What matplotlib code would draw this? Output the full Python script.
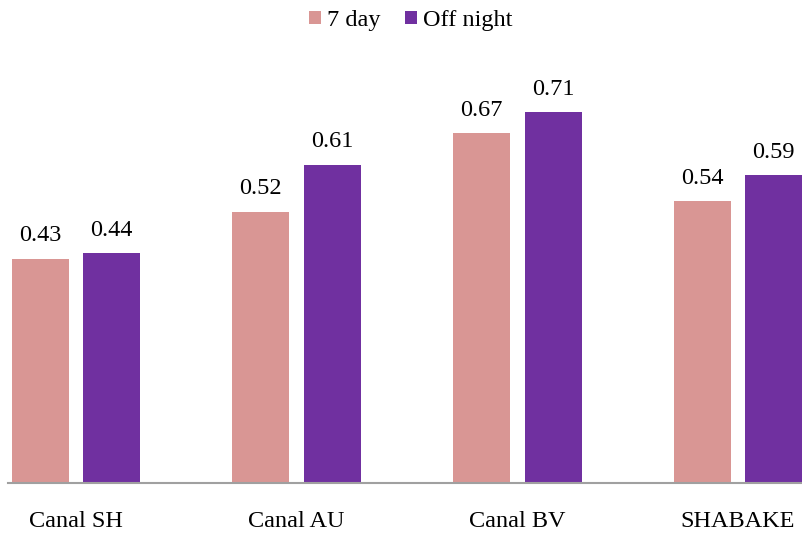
import matplotlib
matplotlib.use("Agg")
import matplotlib.pyplot as plt
from matplotlib.patches import Patch
import numpy as np

categories = ["Canal SH", "Canal AU", "Canal BV", "SHABAKE"]
series_names = ["7 day", "Off night"]
seven_day = [0.43, 0.52, 0.67, 0.54]
off_night = [0.44, 0.61, 0.71, 0.59]
colors = ["#D99694", "#7030A0"]

plt.rcParams["font.family"] = ["Liberation Serif", "DejaVu Serif"]
FS = 17.5

fig = plt.figure(figsize=(8.02, 5.33), dpi=100)
W, H = 802, 533
ax_left, ax_right, ax_bottom, ax_top = 8, 802, 483, 65.4
ax = fig.add_axes([ax_left / W, (H - ax_bottom) / H,
                   (ax_right - ax_left) / W, (ax_bottom - ax_top) / H])

x = np.arange(len(categories))
width = 0.258
offset = 0.162

for vals, dx, col in [(seven_day, -offset, colors[0]), (off_night, offset, colors[1])]:
    bars = ax.bar(x + dx, vals, width, color=col, zorder=2)
    for b, v in zip(bars, vals):
        ax.annotate(f"{v:.2f}", (b.get_x() + b.get_width() / 2, v),
                    xytext=(0, 9), textcoords="offset points",
                    ha="center", va="bottom", fontsize=FS)

ax.set_xlim(-0.308, 3.29)
ax.set_ylim(0, 0.8)
ax.set_yticks([])
ax.set_xticks(x)
ax.set_xticklabels(categories, fontsize=FS)
ax.tick_params(axis="x", length=0, pad=20)
for s in ["top", "right", "left"]:
    ax.spines[s].set_visible(False)
ax.spines["bottom"].set_color("#A0A0A0")
ax.spines["bottom"].set_linewidth(1.5)
ax.spines["bottom"].set_bounds(-0.308, 3.29)

handles = [Patch(facecolor=c, edgecolor="none") for c in colors]
fig.legend(handles, series_names, loc="upper center", bbox_to_anchor=(0.512, 1.022),
           ncol=2, frameon=False, fontsize=FS, handlelength=0.5, handleheight=0.5,
           handletextpad=0.25, columnspacing=1.0)

fig.savefig("out.png", dpi=100)
